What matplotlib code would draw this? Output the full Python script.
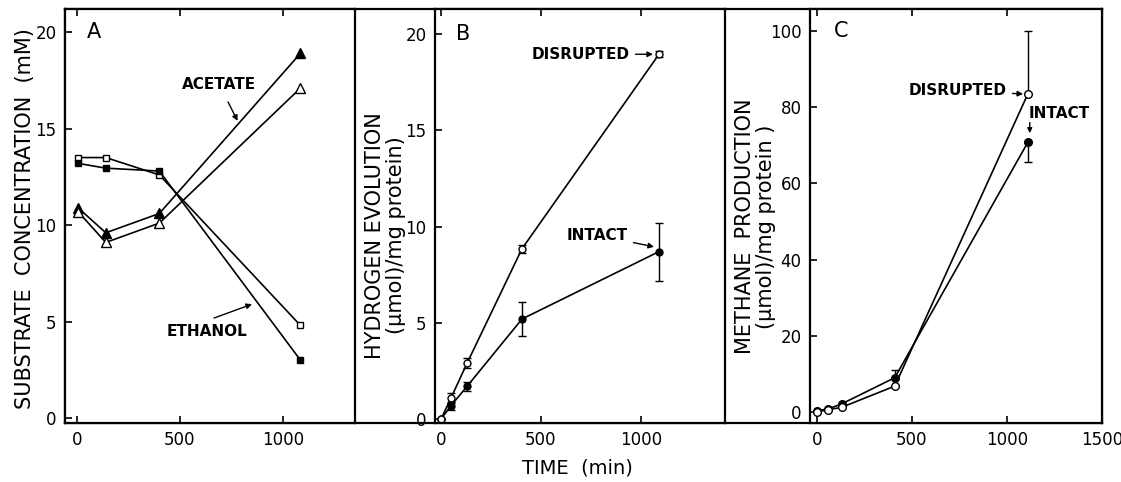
import matplotlib
matplotlib.use("Agg")
import matplotlib.pyplot as plt
import numpy as np

# panel A: substrate concentration (mM)
time_a = [5, 140, 400, 1085]
acetate_filled = [10.9, 9.6, 10.6, 18.9]
acetate_open = [10.7, 9.1, 10.1, 17.1]
ethanol_open = [13.5, 13.5, 12.6, 4.8]
ethanol_filled = [13.2, 12.95, 12.8, 3.0]

# panel B: hydrogen evolution
time_b = [0, 50, 130, 405, 1090]
h2_disrupted = [0.0, 1.1, 2.9, 8.85, 18.95]
h2_disrupted_err = [0.0, 0.25, 0.25, 0.2, 0.15]
h2_intact = [0.0, 0.7, 1.7, 5.2, 8.7]
h2_intact_err = [0.0, 0.2, 0.25, 0.87, 1.5]

# panel C: methane production
time_c = [0, 60, 130, 410, 1110]
ch4_disrupted = [0.0, 0.6, 1.2, 6.8, 83.5]
ch4_disrupted_lo = [0, 0, 0, 0, 0]
ch4_disrupted_hi = [0, 0, 0, 0, 16.5]
ch4_intact = [0.3, 0.8, 2.1, 9.0, 70.8]
ch4_intact_lo = [0, 0, 0, 0, 5.3]
ch4_intact_hi = [0, 0, 0, 2.0, 0]

plt.rcParams['font.family'] = 'DejaVu Sans'
W, H = 1121, 482
fig = plt.figure(figsize=(W / 100, H / 100), dpi=100)

def box(x0, x1, y0=9, y1=423):
    return [x0 / W, (H - y1) / H, (x1 - x0) / W, (y1 - y0) / H]

# outer frame round all three panels
frame = fig.add_axes(box(65, 1102), zorder=0)
frame.set_xticks([])
frame.set_yticks([])
for s in frame.spines.values():
    s.set_linewidth(1.6)

axA = fig.add_axes(box(65, 355), zorder=1)
axB = fig.add_axes(box(435, 725), zorder=1)
axC = fig.add_axes(box(810, 1102), zorder=1)

for ax in (axA, axB, axC):
    for s in ax.spines.values():
        s.set_linewidth(1.6)
    ax.tick_params(direction='in', top=True, length=5, width=1.2,
                   labelsize=12, pad=6)

arrow = dict(arrowstyle='-|>', color='k', lw=1, shrinkB=0, mutation_scale=8)
lw = 1.2
# A
axA.plot(time_a, acetate_filled, '-^', color='k', mfc='k', ms=6.5, lw=lw)
axA.plot(time_a, acetate_open, '-^', color='k', mfc='white', ms=6.5, lw=lw)
axA.plot(time_a, ethanol_open, '-s', color='k', mfc='white', ms=5, lw=lw)
axA.plot(time_a, ethanol_filled, '-s', color='k', mfc='k', ms=5, lw=lw)
axA.set_xlim(-58, 1350)
axA.set_ylim(-0.26, 21.2)
axA.set_xticks([0, 500, 1000])
axA.set_yticks([0, 5, 10, 15, 20])
axA.text(50, 20, 'A', fontsize=15, va='center', ha='left')
axA.annotate('ACETATE', xy=(780, 15.4), xytext=(690, 17.3), fontsize=11,
             fontweight='bold', ha='center', va='center',
             arrowprops=dict(arrow, shrinkA=6))
axA.annotate('ETHANOL', xy=(850, 5.9), xytext=(630, 4.5), fontsize=11,
             fontweight='bold', ha='center', va='center',
             arrowprops=dict(arrow, shrinkA=6, relpos=(0.4, 1)))
axA.set_ylabel('SUBSTRATE  CONCENTRATION  (mM)', fontsize=15)
axA.yaxis.set_label_coords(-0.105, 0.493)

# B
axB.errorbar(time_b, h2_intact, yerr=h2_intact_err, fmt='-o', color='k', mfc='k',
             ms=5, lw=lw, capsize=3, elinewidth=1)
axB.errorbar(time_b, h2_disrupted, yerr=h2_disrupted_err, fmt='-o', color='k',
             mfc='white', ms=5, lw=lw, capsize=3, elinewidth=1)
axB.set_xlim(-30, 1420)
axB.set_ylim(-0.2, 21.3)
axB.set_xticks([0, 500, 1000])
axB.set_yticks([0, 5, 10, 15, 20])
axB.text(75, 20, 'B', fontsize=15, va='center', ha='left')
axB.annotate('DISRUPTED', xy=(1060, 18.95), xytext=(945, 18.95), fontsize=11,
             fontweight='bold', ha='right', va='center',
             arrowprops=dict(arrow, shrinkA=2))
axB.annotate('INTACT', xy=(1065, 8.95), xytext=(935, 9.55), fontsize=11,
             fontweight='bold', ha='right', va='center',
             arrowprops=dict(arrow, shrinkA=2))
axB.set_ylabel('HYDROGEN EVOLUTION\n(\u03bcmol)/mg protein)', fontsize=15,
               linespacing=1.05)
axB.yaxis.set_label_coords(-0.10, 0.453)
axB.set_xlabel('TIME  (min)', fontsize=14)
axB.xaxis.set_label_coords(0.49, -0.085)

# C
axC.errorbar(time_c, ch4_intact, yerr=[ch4_intact_lo, ch4_intact_hi], fmt='-o',
             color='k', mfc='k', ms=5.5, lw=lw, capsize=3, elinewidth=1)
axC.errorbar(time_c, ch4_disrupted, yerr=[ch4_disrupted_lo, ch4_disrupted_hi],
             fmt='-o', color='k', mfc='white', ms=5.5, lw=lw, capsize=3, elinewidth=1)
axC.set_xlim(-36, 1500)
axC.set_ylim(-2.9, 105.8)
axC.set_xticks([0, 500, 1000, 1500])
axC.set_yticks([0, 20, 40, 60, 80, 100])
axC.text(92, 100, 'C', fontsize=15, va='center', ha='left')
axC.annotate('DISRUPTED', xy=(1085, 83.5), xytext=(1000, 84.3), fontsize=11,
             fontweight='bold', ha='right', va='center',
             arrowprops=dict(arrow, shrinkA=2))
axC.text(1112, 76.5, 'INTACT', fontsize=11, fontweight='bold', ha='left', va='bottom')
axC.annotate('', xy=(1120, 73.2), xytext=(1120, 76.0),
             arrowprops=dict(arrow, shrinkA=0, mutation_scale=7))
axC.set_ylabel('METHANE  PRODUCTION\n(\u03bcmol)/mg protein )', fontsize=15,
               linespacing=1.05)
axC.yaxis.set_label_coords(-0.116, 0.475)

fig.savefig('out.png', dpi=100)
